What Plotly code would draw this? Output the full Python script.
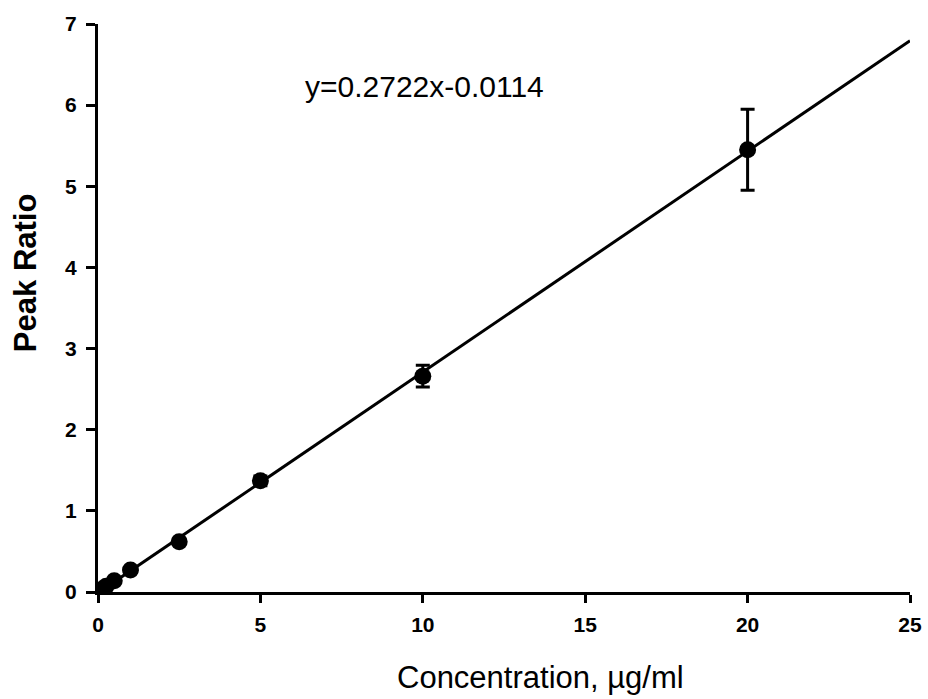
import plotly.graph_objects as go

conc = [0, 0.1, 0.25, 0.5, 1, 2.5, 5, 10, 20]
peak_ratio = [0.0, 0.03, 0.07, 0.14, 0.27, 0.62, 1.37, 2.66, 5.45]
err = [0.0, 0.0, 0.0, 0.02, 0.03, 0.02, 0.06, 0.135, 0.5]
slope = 0.2722
intercept = -0.0114
fit_x = [0, 25]
fit_y = [slope * v + intercept for v in fit_x]
x_ticks = [0, 5, 10, 15, 20, 25]
y_ticks = [0, 1, 2, 3, 4, 5, 6, 7]

FONT = "Liberation Sans, Arial, sans-serif"

fig = go.Figure()
fig.add_trace(go.Scatter(x=fit_x, y=fit_y, mode="lines",
                         line=dict(color="black", width=3), showlegend=False))
fig.add_trace(go.Scatter(x=conc, y=peak_ratio, mode="markers",
                         marker=dict(color="black", size=17),
                         error_y=dict(type="data", array=err, visible=True,
                                      color="black", thickness=3, width=7),
                         showlegend=False))

fig.add_annotation(x=10.05, y=6.23, text="y=0.2722x-0.0114", showarrow=False,
                   xanchor="center", yanchor="middle",
                   font=dict(family=FONT, size=30, color="black"))
fig.add_annotation(xref="paper", yref="paper", x=0.545, y=-0.15,
                   xanchor="center", yanchor="middle",
                   text="Concentration, µg/ml", showarrow=False,
                   font=dict(family=FONT, size=31, color="black"))
fig.add_annotation(xref="paper", yref="paper", x=-0.09, y=0.563,
                   xanchor="center", yanchor="middle",
                   text="<b>Peak Ratio</b>", showarrow=False, textangle=-90,
                   font=dict(family=FONT, size=31, color="black"))

fig.update_layout(
    width=928, height=699,
    margin=dict(l=98, r=18, t=24, b=107, autoexpand=False),
    plot_bgcolor="white", paper_bgcolor="white",
    font=dict(family=FONT, color="black"),
)
fig.update_xaxes(range=[0, 25], tickvals=x_ticks, automargin=False,
                 showline=True, linecolor="black", linewidth=3,
                 ticks="outside", ticklen=8, tickwidth=2.5, tickcolor="black",
                 ticklabelstandoff=4,
                 showgrid=False, zeroline=False,
                 tickfont=dict(size=21, family=FONT, weight="bold"))
fig.update_yaxes(range=[0, 7], tickvals=y_ticks, automargin=False,
                 showline=True, linecolor="black", linewidth=3,
                 ticks="outside", ticklen=9, tickwidth=2.5, tickcolor="black",
                 ticklabelstandoff=5,
                 showgrid=False, zeroline=False,
                 tickfont=dict(size=21, family=FONT, weight="bold"))

fig.write_html("out.html")
